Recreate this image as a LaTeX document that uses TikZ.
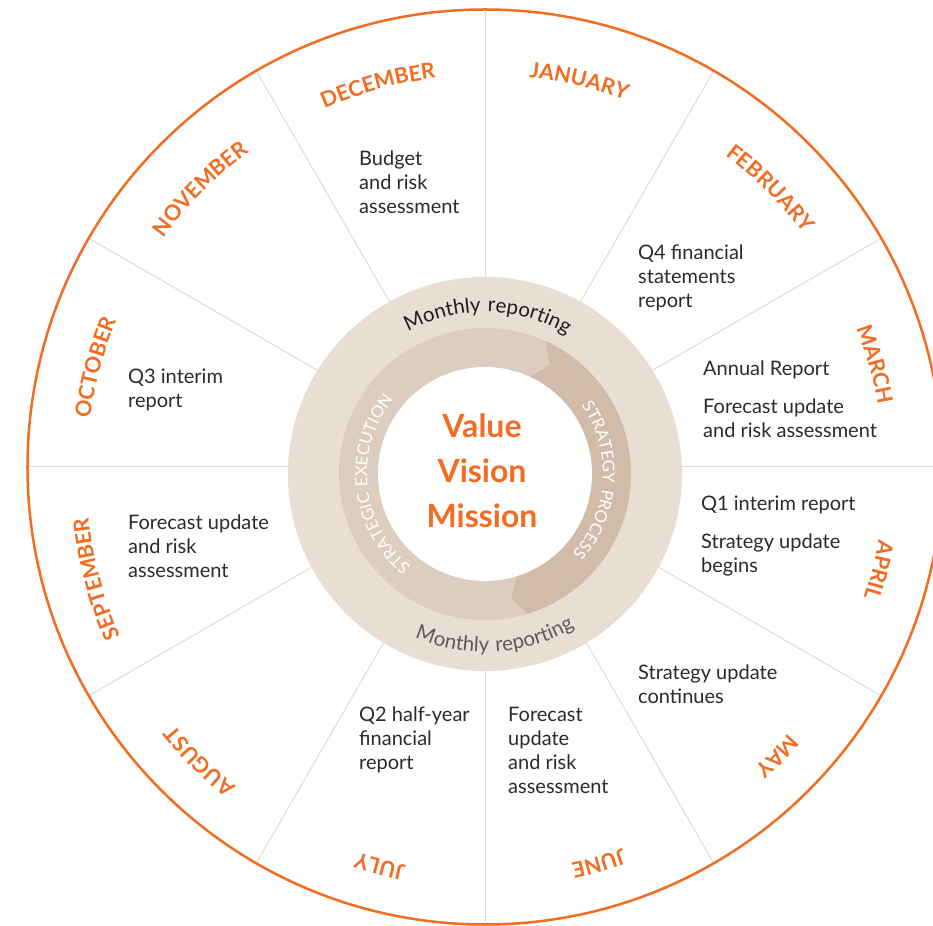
\documentclass[tikz,border=0pt]{standalone}
\usepackage{fontspec}
\setmainfont{Lato}
\newfontfamily\trkfont[LetterSpace=10]{Lato}
\newfontfamily\rngfont[LetterSpace=7]{Lato}
\usetikzlibrary{decorations.text}
\definecolor{ora}{HTML}{F26C21}
\definecolor{spokec}{HTML}{E4DAD0}
\definecolor{ringA}{HTML}{E8DED4}
\definecolor{ringB}{HTML}{DCCDBF}
\definecolor{ringC}{HTML}{D1BCAA}
\definecolor{bodytxt}{HTML}{2B2B2B}
\definecolor{grayT}{HTML}{5A5A5A}
\definecolor{darkT}{HTML}{1E1E1E}
\newcommand\monthfmt{\trkfont\bfseries\fontsize{21.5}{21.5}\selectfont\color{ora}}
\newcommand\monthlbl[2]{%
  \path[decorate, decoration={text along path, text align=center, text={|\monthfmt|#2}}]
    (#1+30:399pt) arc[start angle=#1+30, end angle=#1-30, radius=399pt];}
\tikzset{
  txt/.style={anchor=north west, inner sep=0pt, align=left,
    font=\fontsize{20}{24}\selectfont, text=bodytxt},
  spokeline/.style={draw=spokec, line width=1pt},
}
\begin{document}
\begin{tikzpicture}[x=1pt, y=1pt]
\useasboundingbox (-485,-458) rectangle (448,467);
\clip (-485,-458) rectangle (448,467);
\fill[white] (-485,-458) rectangle (448,467);
\coordinate (O) at (0,0);
% spokes
\foreach \a in {0,30,...,330} \draw[spokeline] (O) -- (\a:458pt);
% outer circle
\draw[ora, line width=2.5pt] (O) circle[radius=457.5pt];
\begin{scope}[shift={(0pt,-7pt)}]
  \coordinate (C) at (0,0);
  \fill[ringA] (C) circle[radius=197pt];
  \fill[ringB] (C) circle[radius=146pt];
  \fill[ringC] (65.5:146pt) arc[start angle=65.5, end angle=-73, radius=146pt]
     -- (-78:127pt) -- (-73:107pt) arc[start angle=-73, end angle=65, radius=107pt]
     -- (59.5:127pt) -- cycle;
  \fill[white] (C) circle[radius=107pt];
  % ring texts
  \path[decorate, decoration={text along path, text align=center,
     text={|\rngfont\fontsize{20.5}{20.5}\selectfont\color{darkT}|Monthly reporting}}]
     (135:162pt) arc[start angle=135, end angle=43, radius=162pt];
  \path[decorate, decoration={text along path, text align=center,
     text={|\rngfont\fontsize{20.5}{20.5}\selectfont\color{grayT}|Monthly reporting}}]
     (-132:178pt) arc[start angle=-132, end angle=-41, radius=178pt];
  \path[decorate, decoration={text along path, text align=center,
     text={|\trkfont\fontsize{16.5}{16.5}\selectfont\color{white}|STRATEGIC EXECUTION}}]
     (256:118pt) arc[start angle=256, end angle=116, radius=118pt];
  \path[decorate, decoration={text along path, text align=center,
     text={|\trkfont\fontsize{16.5}{16.5}\selectfont\color{white}|STRATEGY PROCESS}}]
     (60:118pt) arc[start angle=60, end angle=-67, radius=118pt];
  % months
  \monthlbl{76.5}{JANUARY}
  \monthlbl{45}{FEBRUARY}
  \monthlbl{15.7}{MARCH}
  \monthlbl{-13.7}{APRIL}
  \monthlbl{-44}{MAY}
  \monthlbl{-73.7}{JUNE}
  \monthlbl{-105}{JULY}
  \monthlbl{-134.8}{AUGUST}
  \monthlbl{-164.9}{SEPTEMBER}
  \monthlbl{164.7}{OCTOBER}
  \monthlbl{135}{NOVEMBER}
  \monthlbl{105.4}{DECEMBER}
\end{scope}
% centre
\node (core) [anchor=north, inner sep=0pt, align=center, text=ora,
  font=\bfseries\fontsize{32}{45}\selectfont] at (-3,53.5) {Value\\Vision\\Mission};
% month contents
\node (tdec) [txt] at (-126,316) {Budget\\and risk\\assessment};
\node (tfeb) [txt] at (153,222) {Q4 financial\\statements\\report};
\node (tmar) [txt] at (218,106) {Annual Report\\[14pt]Forecast update\\and risk assessment};
\node (tapr) [txt] at (216,-29) {Q1 interim report\\[14pt]Strategy update\\begins};
\node (tmay) [txt] at (153,-198) {Strategy update\\continues};
\node (tjun) [txt] at (23,-240) {Forecast\\update\\and risk\\assessment};
\node (tjul) [txt] at (-126,-240) {Q2 half-year\\financial\\report};
\node (tsep) [txt] at (-357,-48) {Forecast update\\and risk\\assessment};
\node (toct) [txt] at (-357,98) {Q3 interim\\report};
\end{tikzpicture}
\end{document}
